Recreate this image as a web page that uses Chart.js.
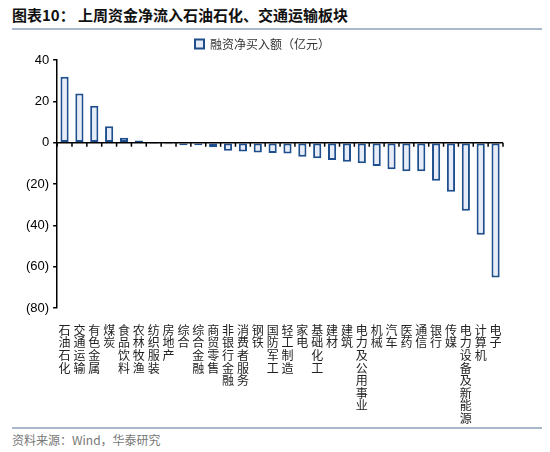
<!DOCTYPE html><html><head><meta charset="utf-8">
<script src="https://cdn.jsdelivr.net/npm/chart.js@4"></script>
<style>body{margin:0;width:550px;height:452px;background:#fff;font-family:"Noto Sans CJK SC";position:relative;overflow:hidden}
#t{position:absolute;left:12px;top:4px;font-size:15px;font-weight:bold;color:#111}
#l1{position:absolute;left:12px;right:8px;top:28px;height:2px;background:#a9b8cc}
#l2{position:absolute;left:12px;right:8px;top:427px;height:2px;background:#a9b8cc}
#s{position:absolute;left:12px;top:431px;font-size:12px;color:#777}
#c{position:absolute;left:0;top:32px}</style></head><body>
<div id="t">图表10：&nbsp;上周资金净流入石油石化、交通运输板块</div><div id="l1"></div>
<canvas id="c" width="550" height="393"></canvas>
<div id="l2"></div><div id="s">资料来源：Wind，华泰研究</div>
<script>
const categories=["石油石化","交通运输","有色金属","煤炭","食品饮料","农林牧渔","纺织服装","房地产","综合","综合金融","商贸零售","非银行金融","消费者服务","钢铁","国防军工","轻工制造","家电","基础化工","建材","建筑","电力及公用事业","机械","汽车","医药","通信","银行","传媒","电力设备及新能源","计算机","电子"];
const values=[31.9,23.8,17.9,7.9,2.4,1.0,-0.6,-0.8,-1.2,-1.2,-2.2,-3.9,-4.3,-4.8,-5.0,-5.2,-6.8,-7.6,-8.4,-9.2,-10.0,-11.3,-12.9,-13.8,-13.8,-18.4,-23.7,-33.0,-44.6,-65.2];
const yTicks=[40,20,0,-20,-40,-60,-80];
const zeroLine={id:'z',afterDatasetsDraw(ch){const{ctx,scales:{x,y}}=ch;const y0=y.getPixelForValue(0);ctx.save();ctx.strokeStyle='#000';ctx.lineWidth=1.5;ctx.beginPath();ctx.moveTo(x.left,y0);ctx.lineTo(x.right,y0);
for(let i=0;i<=categories.length;i++){const px=x.left+(x.right-x.left)*i/categories.length;ctx.moveTo(px,y0);ctx.lineTo(px,y0+4);}ctx.stroke();ctx.restore();}};
new Chart(document.getElementById('c'),{type:'bar',data:{labels:categories.map(s=>s.split('')),datasets:[{label:'融资净买入额（亿元）',data:values,backgroundColor:'#e6edf8',borderColor:'#1f4e8c',borderWidth:2,borderSkipped:false,barPercentage:0.55,categoryPercentage:1}]},
options:{responsive:false,animation:false,layout:{padding:{left:22,right:47,top:0,bottom:0}},
plugins:{legend:{position:'top',labels:{boxWidth:9,boxHeight:9,font:{size:12,family:'Noto Sans CJK SC'},color:'#333',padding:6}},tooltip:{enabled:false}},
scales:{x:{afterFit:s=>{s.height=117},grid:{display:false},border:{display:false},ticks:{autoSkip:false,maxRotation:0,font:{size:12,family:'Noto Sans CJK SC',lineHeight:1.05},color:'#222',padding:8}},
y:{min:-80,max:40,afterBuildTicks:a=>{a.ticks=yTicks.map(v=>({value:v}))},grid:{drawOnChartArea:false,drawTicks:true,tickLength:4,color:'#000',lineWidth:1.5},border:{display:true,color:'#000',width:1.5},ticks:{font:{size:13,family:'Liberation Sans'},color:'#000',padding:4,callback:v=>v<0?'('+(-v)+')':v}}}},plugins:[zeroLine]});
</script></body></html>
